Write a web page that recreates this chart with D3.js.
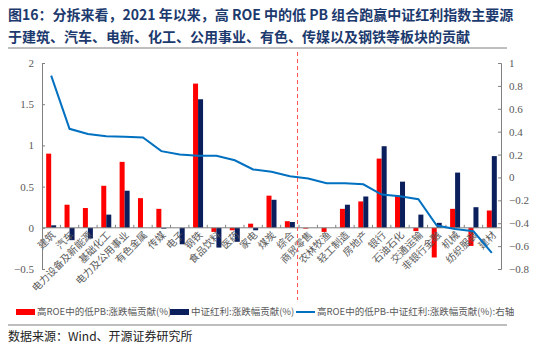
<!DOCTYPE html>
<html><head><meta charset="utf-8">
<script src="https://cdn.jsdelivr.net/npm/d3@7"></script>
<style>body{margin:0;background:#fff}svg{display:block}</style>
</head><body>
<script>
const categories = ["建筑","汽车","电力设备及新能源","基础化工","电力及公用事业","有色金属","传媒","电子","钢铁","食品饮料","医药","家电","煤炭","综合","商贸零售","农林牧渔","轻工制造","房地产","银行","石油石化","交通运输","非银行金融","机械","纺织服装","建材"];
const redValues = [0.90,0.28,0.24,0.51,0.80,0.36,0.23,0,1.75,-0.05,-0.03,0.05,0.39,0.08,-0.01,-0.05,0.23,0.32,0.84,0.39,-0.04,-0.36,0.23,-0.22,0.21];
const navyValues = [0.03,-0.15,-0.13,0.16,0.45,0,-0.01,-0.20,1.56,-0.24,-0.17,-0.03,0.34,0.07,0,0,0.28,0.38,0.99,0.56,0.16,0.06,0.67,0.25,0.87];
const diffValues = [0.89,0.425,0.38,0.36,0.355,0.35,0.23,0.20,0.19,0.19,0.15,0.07,0.05,0.01,-0.01,-0.05,-0.05,-0.06,-0.15,-0.165,-0.19,-0.42,-0.45,-0.47,-0.66];
const leftTicks = [2,1.5,1,0.5,0,-0.5];
const rightTicks = [1,0.8,0.6,0.4,0.2,0,-0.2,-0.4,-0.6,-0.8];
const seriesNames = ["高ROE中的低PB:涨跌幅贡献(%)","中证红利:涨跌幅贡献(%)","高ROE中的低PB-中证红利:涨跌幅贡献(%):右轴"];
const titleLines = ["图16：分拆来看，2021 年以来，高 ROE 中的低 PB 组合跑赢中证红利指数主要源","于建筑、汽车、电新、化工、公用事业、有色、传媒以及钢铁等板块的贡献"];
const sourceText = "数据来源：Wind、开源证券研究所";

const W = 550, H = 349;
const RED = "#FF0000", NAVY = "#0A1F5C", BLUE = "#0070C0", GRAY = "#595959";
const svg = d3.select("body").append("svg").attr("width", W).attr("height", H);
const cjk = "'Noto Sans CJK SC', sans-serif";
const serif = "'Liberation Serif','Noto Sans CJK SC', serif";

// Title
svg.selectAll("text.title").data(titleLines).join("text")
  .attr("x", 8).attr("y", (d,i)=> 20 + i*22)
  .attr("font-family", cjk).attr("font-weight", "bold").attr("font-size", 14)
  .attr("fill", "#1C3A6E").text(d=>d);
svg.append("line").attr("x1",8).attr("x2",507).attr("y1",48).attr("y2",48).attr("stroke","#7f7f7f").attr("stroke-width",1);

const L = 42, R = 501, T = 63, B = 269;
const x = d3.scaleBand().domain(categories).range([L, R]);
const bw = x.bandwidth();
const xs = d3.scaleBand().domain(["r","n"]).range([bw/2-5, bw/2+5]);
const yL = d3.scaleLinear().domain([-0.5, 2]).range([B, T]);
const yR = d3.scaleLinear().domain([-0.8, 1]).range([B, T]);

// bars
const g = svg.append("g");
g.selectAll("rect.red").data(categories).join("rect")
  .attr("x", (d)=> x(d)+xs("r")).attr("width", xs.bandwidth())
  .attr("y", (d,i)=> yL(Math.max(0, redValues[i])))
  .attr("height", (d,i)=> Math.abs(yL(redValues[i]) - yL(0)))
  .attr("fill", RED);
g.selectAll("rect.navy").data(categories).join("rect")
  .attr("x", (d)=> x(d)+xs("n")).attr("width", xs.bandwidth())
  .attr("y", (d,i)=> yL(Math.max(0, navyValues[i])))
  .attr("height", (d,i)=> Math.abs(yL(navyValues[i]) - yL(0)))
  .attr("fill", NAVY);

// zero axis with ticks
const z = yL(0);
svg.append("line").attr("x1", L).attr("x2", R).attr("y1", z).attr("y2", z).attr("stroke", "#808080").attr("stroke-width", 1);
svg.selectAll("line.xt").data(categories.slice(1)).join("line")
  .attr("x1", d=>x(d)).attr("x2", d=>x(d)).attr("y1", z).attr("y2", z-3)
  .attr("stroke", "#808080");

// category labels
svg.selectAll("text.cat").data(categories).join("text")
  .attr("transform", d=>`translate(${x(d)+bw/2+3},${z+6}) rotate(-45)`)
  .attr("text-anchor", "end").attr("dominant-baseline", "middle")
  .attr("font-family", cjk).attr("font-size", 10).attr("fill", GRAY).text(d=>d);

// left axis
const la = svg.append("g").attr("transform", `translate(${L},0)`)
  .call(d3.axisLeft(yL).tickValues(leftTicks).tickSize(-3).tickPadding(8).tickFormat(d3.format("")));
la.select(".domain").attr("stroke", "#808080");
la.selectAll(".tick line").attr("stroke", "#808080");
la.selectAll("text").attr("font-family", serif).attr("font-size", 11).attr("fill", GRAY);
la.attr("font-family", null);

// right axis
const ra = svg.append("g").attr("transform", `translate(${R},0)`)
  .call(d3.axisRight(yR).tickValues(rightTicks).tickSize(-3).tickPadding(8).tickFormat(d3.format("")));
ra.select(".domain").attr("stroke", "#808080");
ra.selectAll(".tick line").attr("stroke", "#808080");
ra.selectAll("text").attr("font-family", serif).attr("font-size", 11).attr("fill", GRAY);

// line
const line = d3.line().x((d,i)=> x(categories[i]) + bw/2).y(d=> yR(d));
svg.append("path").datum(diffValues).attr("d", line).attr("fill", "none")
  .attr("stroke", BLUE).attr("stroke-width", 2);

// dashed divider between 综合 and 商贸零售
const dx = x("商贸零售") - 1.5;
svg.append("line").attr("x1", dx).attr("x2", dx).attr("y1", 52).attr("y2", 300)
  .attr("stroke", "#FF5050").attr("stroke-width", 1).attr("stroke-dasharray", "4,3");

// legend
const legend = [
  {x: 16, type: "rect", color: RED, name: seriesNames[0]},
  {x: 170, type: "rect", color: NAVY, name: seriesNames[1]},
  {x: 296, type: "line", color: BLUE, name: seriesNames[2]}
];
const lg = svg.selectAll("g.lg").data(legend).join("g").attr("transform", d=>`translate(${d.x},312)`);
lg.filter(d=>d.type==="rect").append("rect").attr("x",0).attr("y",-3).attr("width",19).attr("height",6).attr("fill",d=>d.color);
lg.filter(d=>d.type==="line").append("line").attr("x1",0).attr("x2",19).attr("y1",0).attr("y2",0).attr("stroke",d=>d.color).attr("stroke-width",2);
lg.append("text").attr("x", 21).attr("y", 0).attr("dominant-baseline","middle")
  .attr("font-family", cjk).attr("font-size", 9.5).attr("fill", GRAY).text(d=>d.name);

svg.append("line").attr("x1",8).attr("x2",507).attr("y1",325).attr("y2",325).attr("stroke","#7f7f7f").attr("stroke-width",1);
svg.append("text").attr("x", 8).attr("y", 341).attr("font-family", cjk).attr("font-size", 12).attr("fill", "#222").text(sourceText);
</script>
</body></html>
